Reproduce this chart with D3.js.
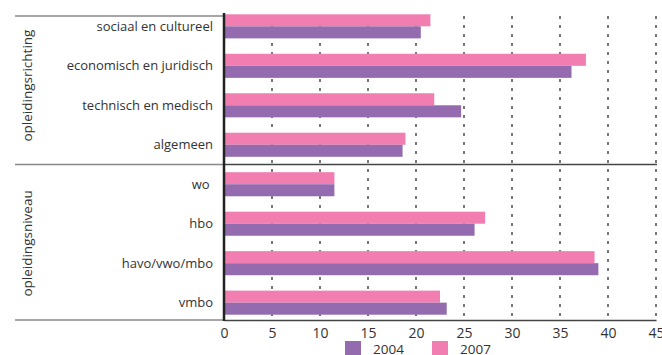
<!DOCTYPE html>
<html><head><meta charset="utf-8">
<script src="https://cdn.jsdelivr.net/npm/d3@7"></script>
<style>body{margin:0;background:#fff}svg{display:block}text{font-family:"Open Sans",sans-serif;fill:#333}</style>
</head><body><svg id="c" width="662" height="355"></svg>
<script>
const categories = ["sociaal en cultureel","economisch en juridisch","technisch en medisch","algemeen","wo ","hbo","havo/vwo/mbo","vmbo"];
const groups = [{label:"opleidingsrichting", from:0, to:3},{label:"opleidingsniveau", from:4, to:7}];
const values2004 = [20.5, 36.2, 24.7, 18.6, 11.5, 26.1, 39.0, 23.2];
const values2007 = [21.5, 37.7, 21.9, 18.9, 11.5, 27.2, 38.6, 22.5];
const xTicks = [0,5,10,15,20,25,30,35,40,45];
const seriesNames = ["2004","2007"];
const colors = {"2004":"#936bae","2007":"#f27eb1"};

const svg = d3.select("#c");
const x = d3.scaleLinear().domain([0,45]).range([224,656]);
const y = d3.scaleBand().domain(categories).range([6.8,322.2]).paddingInner(0.39).paddingOuter(0.19);
const sub = d3.scaleBand().domain(["2007","2004"]).range([0,y.bandwidth()]);

// gridlines
svg.append("g").selectAll("line").data(xTicks.slice(1)).join("line")
  .attr("x1",d=>x(d)).attr("x2",d=>x(d)).attr("y1",16).attr("y2",320)
  .attr("stroke","#777").attr("stroke-width",2).attr("stroke-dasharray","3,6");

// bars
const rows = categories.map((c,i)=>({c, v2004:values2004[i], v2007:values2007[i]}));
const g = svg.append("g");
["2007","2004"].forEach(s=>{
  g.selectAll(null).data(rows).join("rect")
    .attr("x",x(0)).attr("y",d=>y(d.c)+sub(s))
    .attr("width",d=>x(d["v"+s])-x(0)).attr("height",sub.bandwidth())
    .attr("fill",colors[s]);
});

// horizontal lines
svg.append("line").attr("x1",15).attr("x2",224).attr("y1",16).attr("y2",16).attr("stroke","#888").attr("stroke-width",1.5);
const sepY = (y(categories[3])+y.bandwidth()+y(categories[4]))/2;
svg.append("line").attr("x1",15).attr("x2",224).attr("y1",sepY).attr("y2",sepY).attr("stroke","#888").attr("stroke-width",1.5);
svg.append("line").attr("x1",224).attr("x2",657).attr("y1",sepY).attr("y2",sepY).attr("stroke","#444").attr("stroke-width",1.5);
svg.append("line").attr("x1",15).attr("x2",224).attr("y1",320).attr("y2",320).attr("stroke","#888").attr("stroke-width",1.5);

// bottom axis
const xAxis = svg.append("g").attr("transform","translate(0,320)")
  .call(d3.axisBottom(x).tickValues(xTicks).tickSize(0).tickPadding(8));
xAxis.select(".domain").attr("stroke","#444").attr("stroke-width",1.5);
xAxis.selectAll("text").style("font-size","14px").attr("fill","#444");

// left axis line
svg.append("line").attr("x1",224).attr("x2",224).attr("y1",13).attr("y2",321).attr("stroke","#222").attr("stroke-width",2.5);

// category labels
svg.append("g").selectAll("text").data(categories).join("text")
  .attr("x",213).attr("y",d=>y(d)+y.bandwidth()/2).attr("dy","0.35em")
  .attr("text-anchor","end").style("font-size","13px").style("white-space","pre")
  .text(d=>d);

// group labels
svg.append("g").selectAll("text").data(groups).join("text")
  .attr("transform",d=>{const cy=(y(categories[d.from])+y(categories[d.to])+y.bandwidth())/2;return `translate(27,${cy}) rotate(-90)`;})
  .attr("text-anchor","middle").attr("dy","0.35em").style("font-size","13.5px").text(d=>d.label);

// legend
const leg = svg.append("g").selectAll("g").data(seriesNames).join("g")
  .attr("transform",(d,i)=>`translate(${345+i*87},341)`);
leg.append("rect").attr("width",16).attr("height",14).attr("fill",d=>colors[d]);
leg.append("text").attr("x",28).attr("y",13).style("font-size","13.5px").attr("fill","#444").text(d=>d);
</script></body></html>
